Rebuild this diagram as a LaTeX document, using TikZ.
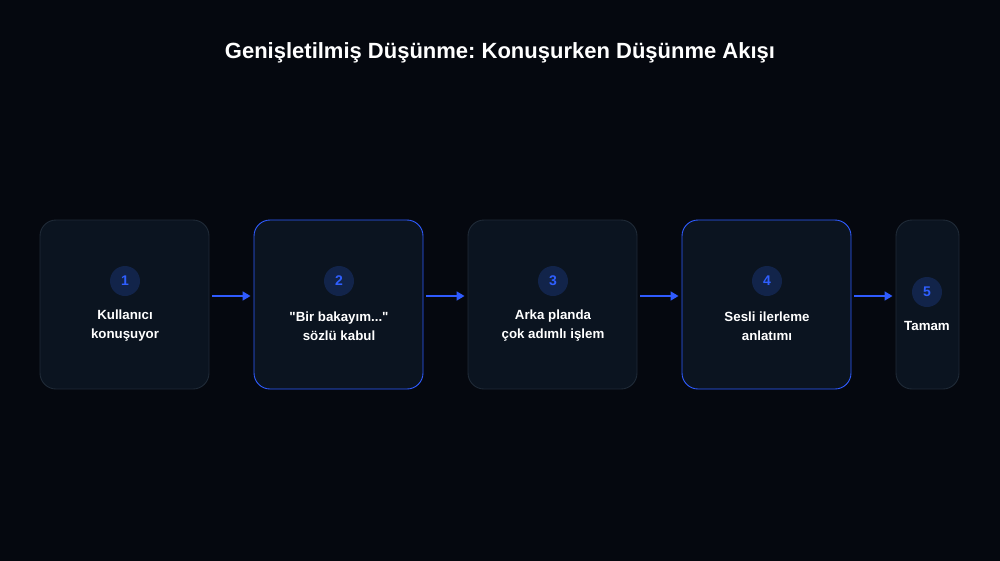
\documentclass[tikz,border=0pt]{standalone}
\usepackage{fontspec}
\setmainfont{Liberation Sans}[Ligatures=TeXOff]
\usetikzlibrary{arrows.meta}
\definecolor{bg}{HTML}{05080F}
\definecolor{boxfill}{HTML}{0B1420}
\definecolor{boxline}{HTML}{1F2A37}
\definecolor{accent}{HTML}{2F5BFF}
\definecolor{circfill}{HTML}{12244A}
\definecolor{numcol}{HTML}{2F5FFF}
\tikzset{
  stepbox/.style={draw=boxline, line width=0.9pt, fill=boxfill, rounded corners=16pt, minimum width=169pt, minimum height=169pt, inner sep=0pt},
  hibox/.style={stepbox, draw=accent},
  smallbox/.style={stepbox, minimum width=63pt},
  numcirc/.style={circle, fill=circfill, minimum size=30pt, inner sep=0pt, text=numcol, font=\bfseries\fontsize{14}{14}\selectfont},
  lbl/.style={text=white, align=center, font=\bfseries\fontsize{13.3}{19}\selectfont},
  arr/.style={draw=accent, line width=1.6pt, -{Triangle[length=8pt,width=9pt]}}
}
\begin{document}
\frenchspacing
\begin{tikzpicture}[x=1pt,y=-1pt]
\useasboundingbox (0,0) rectangle (1000,560);
\fill[bg] (-2,-2) rectangle (1002,562);
\node[text=white, font=\bfseries\fontsize{22}{26}\selectfont] (title) at (500,53) {Genişletilmiş Düşünme: Konuşurken Düşünme Akışı};

\node[stepbox] (b1) at (124.5,304.5) {};
\node[hibox] (b2) at (338.5,304.5) {};
\node[stepbox] (b3) at (552.5,304.5) {};
\node[hibox] (b4) at (766.5,304.5) {};
\node[smallbox] (b5) at (927.5,304.5) {};

\node[numcirc] (n1) at (125,281) {1};
\node[numcirc] (n2) at (339,281) {2};
\node[numcirc] (n3) at (553,281) {3};
\node[numcirc] (n4) at (767,281) {4};
\node[numcirc] (n5) at (927,292) {5};

\node[lbl] (t1) at (125,326) {Kullanıcı\\konuşuyor};
\node[lbl] (t2) at (339,326) {"Bir bakayım..."\\sözlü kabul};
\node[lbl] (t3) at (553,326) {Arka planda\\çok adımlı işlem};
\node[lbl] (t4) at (767,326) {Sesli ilerleme\\anlatımı};
\node[lbl] (t5) at (927,326) {Tamam};

\foreach \a/\b in {b1/b2,b2/b3,b3/b4,b4/b5}
  \draw[arr] ([shift={(3pt,8.5pt)}]\a.east) -- ([shift={(-3pt,8.5pt)}]\b.west);
\end{tikzpicture}
\end{document}
